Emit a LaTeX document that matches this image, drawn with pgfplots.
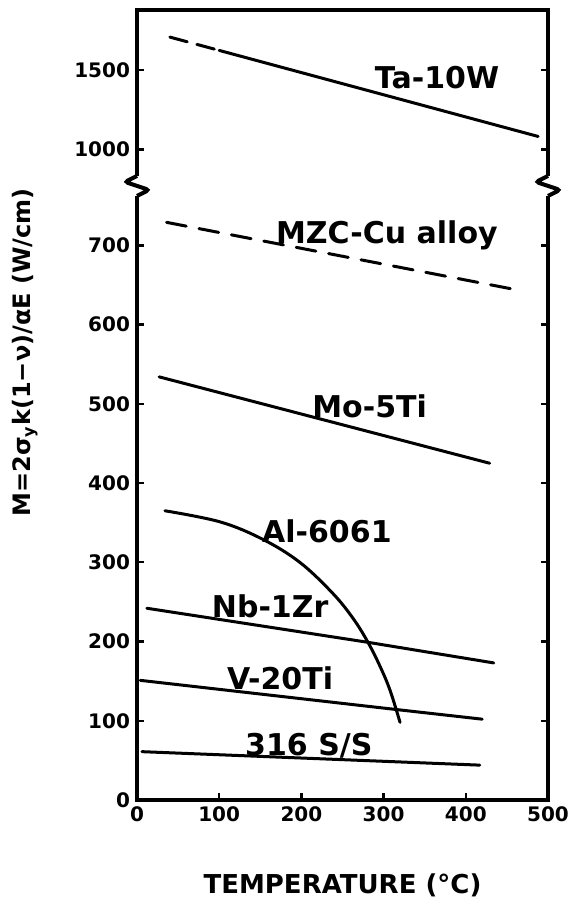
\documentclass[border=0pt]{standalone}
\usepackage{fontspec}
\setmainfont{DejaVu Sans}
\usepackage{pgfplots}
\pgfplotsset{compat=1.18}

% upper part of the y axis (above the break) is compressed 5:1
\pgfplotsset{
  curve/.style={black, line width=1.5pt, line join=round, line cap=round, no markers},
}
\tikzset{lab/.style={font=\bfseries\fontsize{15}{17}\selectfont, inner sep=1pt}}

\begin{document}
\begin{tikzpicture}
\begin{axis}[
    name=ax,
    scale only axis,
    width=205.5pt, height=395pt,
    xmin=0, xmax=500, ymin=0, ymax=997,
    y filter/.expression={y>900 ? 821+(y-1000)/5 : y},
    axis line style={line width=2.2pt},
    xtick={0,100,200,300,400,500},
    xticklabels={0,100,200,300,400,500},
    ytick={0,100,200,300,400,500,600,700,821,921},
    yticklabels={0,100,200,300,400,500,600,700,1000,1500},
    xtick pos=left, ytick pos=both,
    tick align=inside,
    major tick length=3.5pt,
    tick style={line width=1.2pt, black},
    ticklabel style={font=\bfseries\fontsize{10}{12}\selectfont},
    xlabel={TEMPERATURE (°C)},
    xlabel style={font=\bfseries\fontsize{13}{15}\selectfont,
        at={([yshift=-42.5pt]rel axis cs:0.5,0)}, anchor=center},
    ylabel={M=2σ\textsubscript{y}k(1−ν)/αE (W/cm)},
    ylabel style={font=\bfseries\fontsize{12}{14}\selectfont,
        at={([xshift=-56pt]axis cs:0,565)}, anchor=center},
    clip=false,
]
% Ta-10W
\addplot[curve, dash pattern=on 9pt off 5pt] coordinates {(40,1709) (100,1625)};
\addplot[curve] coordinates {(100,1625) (488,1082)};
% MZC-Cu alloy
\addplot[curve, dash pattern=on 10pt off 6.5pt] coordinates {(36,729) (466,643)};
% Mo-5Ti
\addplot[curve] coordinates {(27,534) (429,425)};
% Al-6061
\addplot[curve, smooth, tension=0.6] coordinates {(34,365) (101,351) (153,329) (198,300) (238,261) (263,229) (281,199) (296,168) (308,138) (320,98)};
% Nb-1Zr
\addplot[curve] coordinates {(12,242) (281,199) (434,173)};
% V-20Ti
\addplot[curve] coordinates {(4,151) (317,114) (420,102)};
% 316 S/S
\addplot[curve] coordinates {(6,61) (417,44)};

\node[lab] at (axis cs:365,912) {Ta-10W};
\node[lab] at (axis cs:304,712) {MZC-Cu alloy};
\node[lab] at (axis cs:283,497) {Mo-5Ti};
\node[lab] at (axis cs:231,339) {Al-6061};
\node[lab] at (axis cs:162,244) {Nb-1Zr};
\node[lab] at (axis cs:174,153) {V-20Ti};
\node[lab] at (axis cs:209,69) {316 S/S};

\coordinate (brkL) at (axis cs:0,775);
\coordinate (brkR) at (axis cs:500,775);
\end{axis}

% axis breaks
\foreach \c in {brkL,brkR}{
  \fill[white] ([xshift=-3pt,yshift=-5pt]\c) rectangle ([xshift=3pt,yshift=5pt]\c);
  \draw[line width=2pt, rounded corners=1.5pt] ([yshift=5pt]\c) -- ([xshift=-6pt,yshift=2pt]\c)
      -- ([xshift=6pt,yshift=-2pt]\c) -- ([yshift=-5pt]\c);
}

\pgfresetboundingbox
\path ([xshift=-68.5pt,yshift=-49pt]ax.south west) rectangle ([xshift=12.5pt,yshift=5pt]ax.north east);
\end{tikzpicture}
\end{document}
